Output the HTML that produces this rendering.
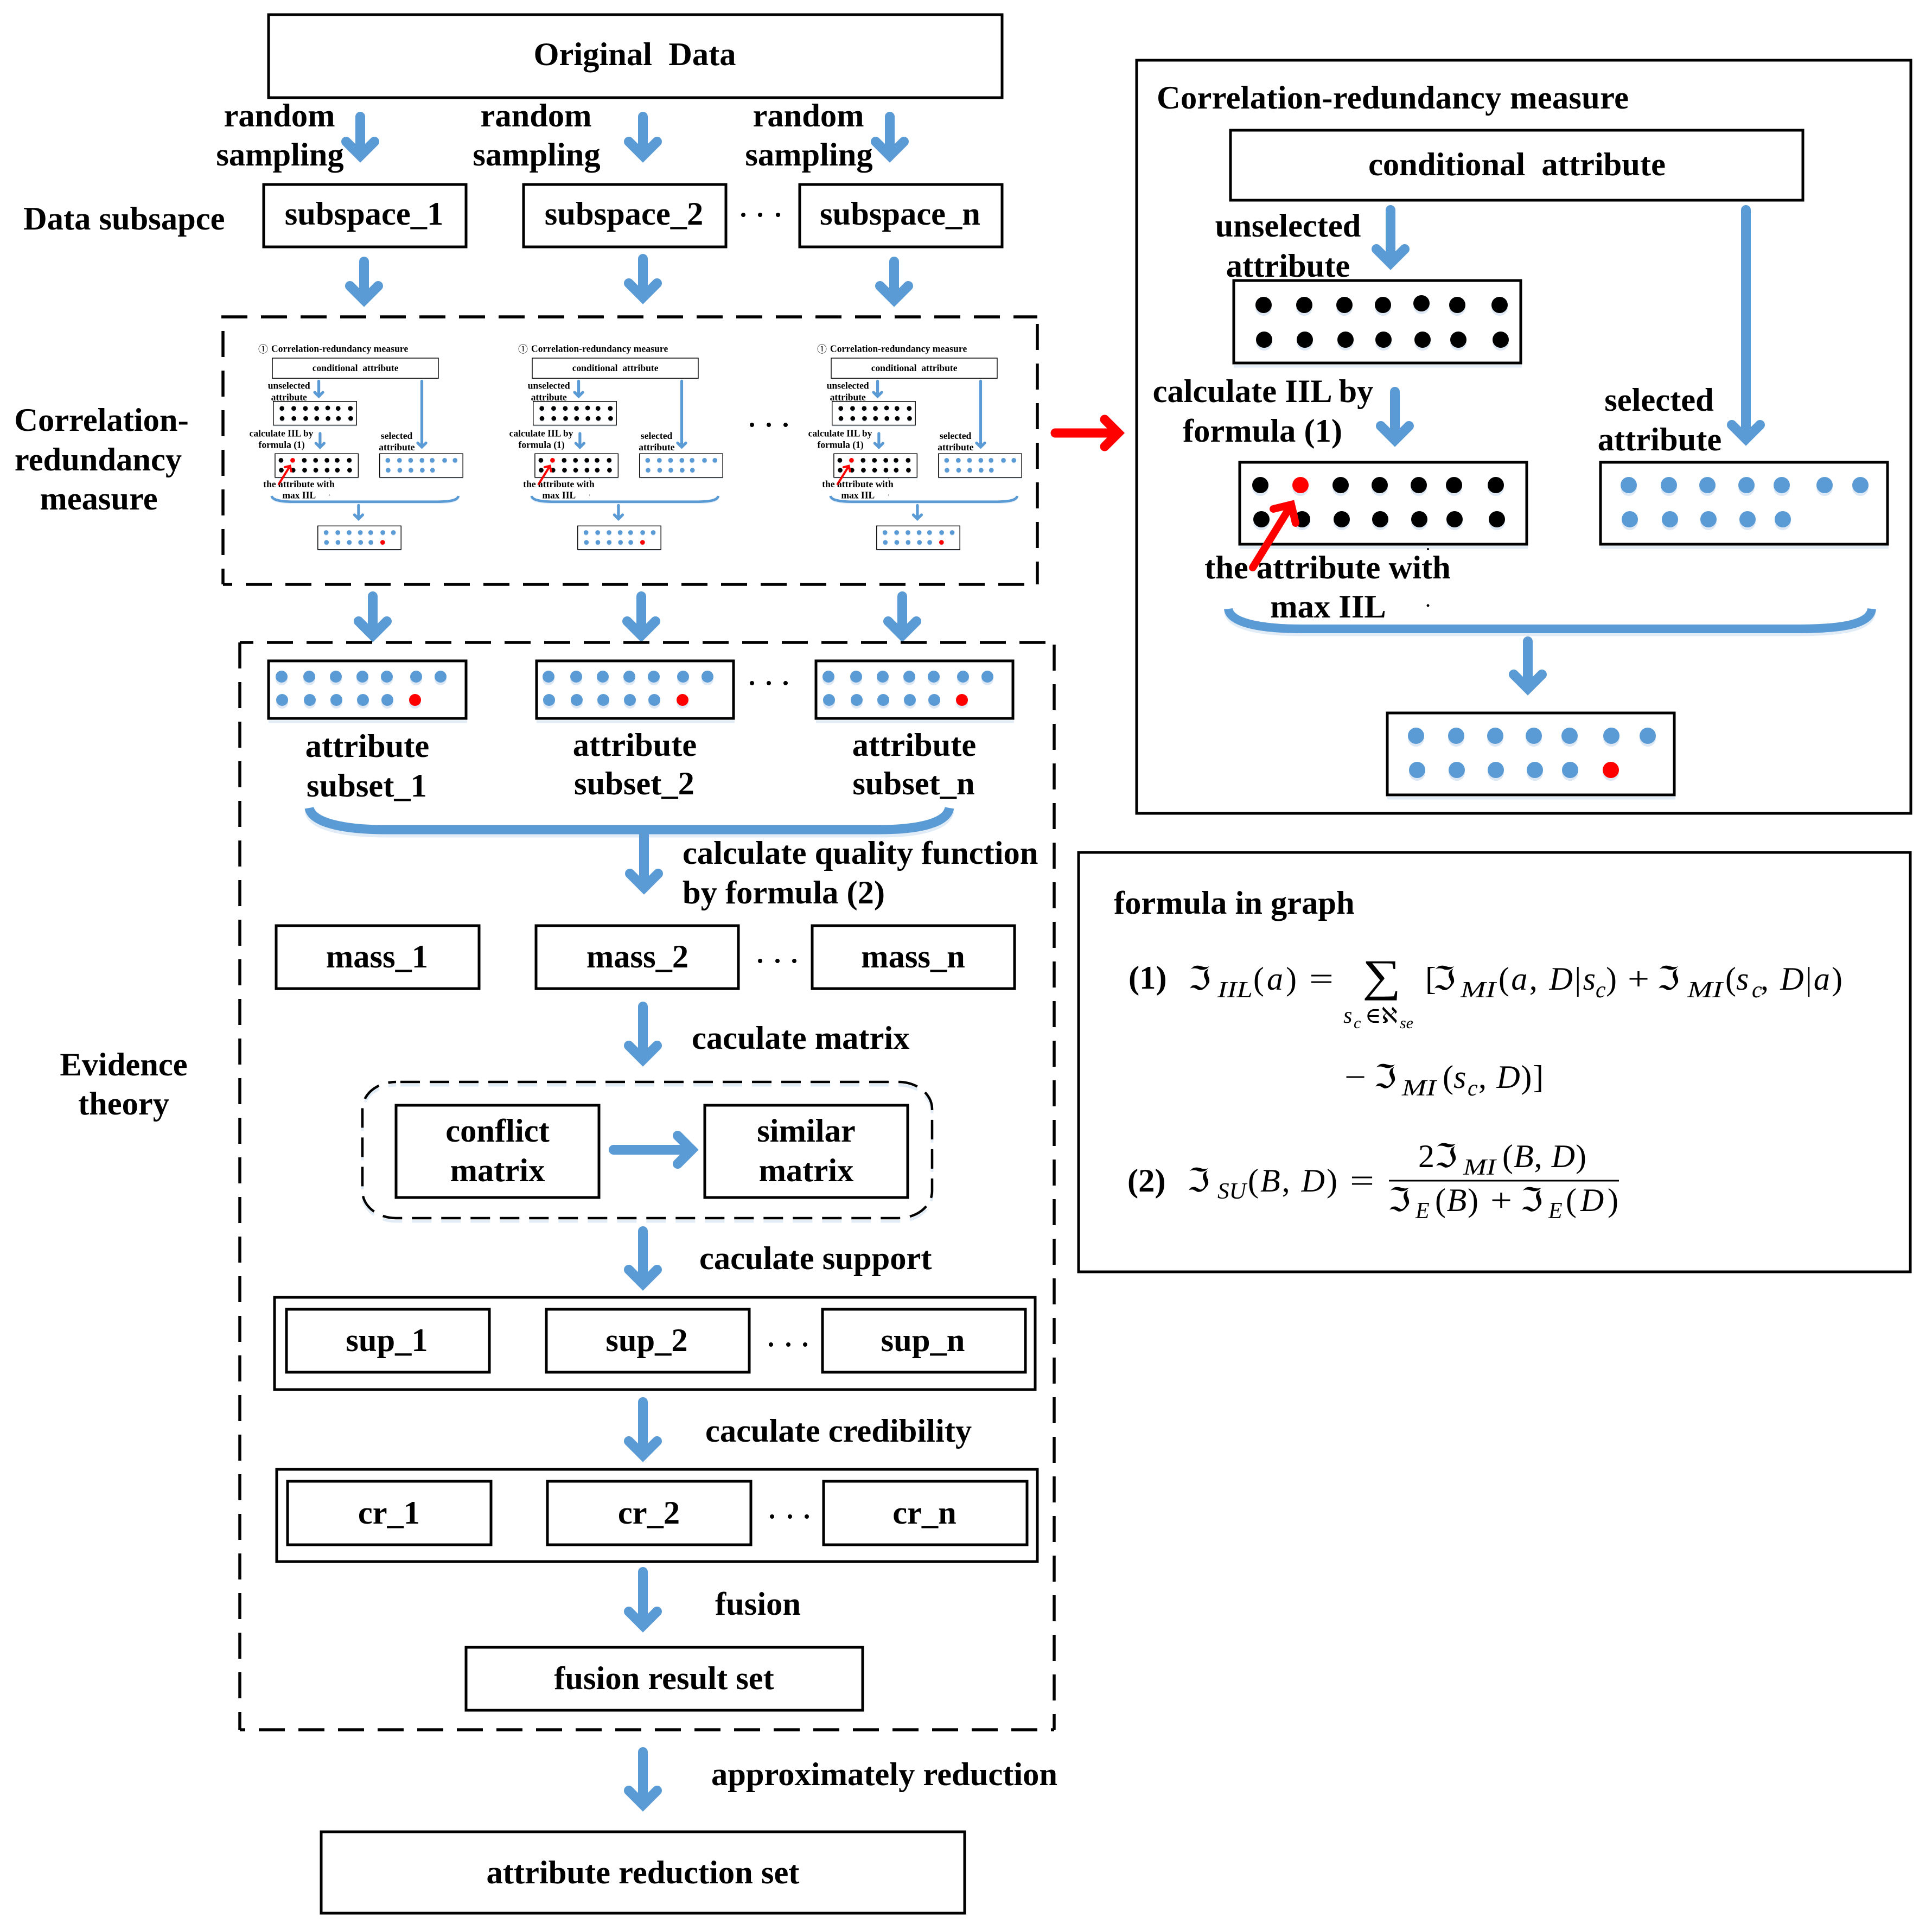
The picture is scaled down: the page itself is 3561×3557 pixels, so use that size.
<!DOCTYPE html>
<html>
<head>
<meta charset="utf-8">
<title>Attribute reduction diagram</title>
<style>
html,body{margin:0;padding:0;background:#fff}
svg{display:block}
text{font-family:"Liberation Serif","DejaVu Serif","DejaVu Sans",serif;fill:#000}
.t{font-weight:700;font-size:60.5px;text-anchor:middle}
.l{font-weight:700;font-size:60.5px}
.m{font-size:60px}
.i{font-style:italic}
.s{font-size:42px;font-style:italic}
.sf{font-size:30px;font-style:italic}
.a{fill:none;stroke:#5b9bd5;stroke-width:18;stroke-linecap:round;stroke-linejoin:miter}
.r{fill:none;stroke:#f00;stroke-linecap:round;stroke-linejoin:miter}
.b{fill:#fff;stroke:#000;stroke-width:5}
.k{fill:none;stroke:#000;stroke-width:5.5}
.bl{fill:#5b9bd5}
.bk{fill:#000}
.rd{fill:#f00}
.sh{filter:drop-shadow(0 5px 0 #dde8f4)}
.bs{fill:none;stroke:#e2ecf7;stroke-width:5}
.c1{font-family:"Noto Sans CJK SC","DejaVu Sans",sans-serif;font-size:18px}
</style>
</head>
<body>
<svg xmlns="http://www.w3.org/2000/svg" width="3561" height="3557" viewBox="0 0 3561 3557">
<rect width="3561" height="3557" fill="#fff"/>

<!-- top section -->
<rect class="b" x="495" y="27" width="1352" height="153"/>
<text class="t" x="1170" y="120">Original&#160; Data</text>

<text class="t" x="515" y="233">random</text>
<text class="t" x="516" y="305">sampling</text>
<text class="t" x="988" y="233">random</text>
<text class="t" x="989" y="305">sampling</text>
<text class="t" x="1490" y="233">random</text>
<text class="t" x="1491" y="305">sampling</text>

<path class="a" d="M664 215V287M638 261L664 287L690 261"/>
<path class="a" d="M1185 215V287M1159 261L1185 287L1211 261"/>
<path class="a" d="M1640 215V287M1614 261L1640 287L1666 261"/>

<text class="l" x="43" y="423">Data subsapce</text>
<rect class="b" x="486" y="340" width="373" height="115"/>
<rect class="b" x="965" y="340" width="373" height="115"/>
<rect class="b" x="1474" y="340" width="373" height="115"/>
<text class="t" x="671" y="414">subspace_1</text>
<text class="t" x="1150" y="414">subspace_2</text>
<text class="t" x="1659" y="414">subspace_n</text>
<circle cx="1370" cy="396" r="4"/><circle cx="1401" cy="396" r="4"/><circle cx="1434" cy="396" r="4"/>

<path class="a" d="M671 482V553M645 527L671 553L697 527"/>
<path class="a" d="M1185 477V548M1159 522L1185 548L1211 522"/>
<path class="a" d="M1648 482V553M1622 527L1648 553L1674 527"/>

<!-- first dashed box -->
<path class="k" stroke-dasharray="48 25" d="M408 584H1912"/>
<path class="k" stroke-dasharray="48 25" d="M411 610V1077"/>
<path class="k" stroke-dasharray="48 25" d="M1912 597V1077"/>
<path class="k" stroke-dasharray="48 25" stroke-dashoffset="31" d="M411 1077H1912"/>

<text class="t" x="187" y="794">Correlation-</text>
<text class="t" x="181" y="867">redundancy</text>
<text class="t" x="182" y="939">measure</text>

<!-- large panel -->
<rect class="b" x="2095" y="111" width="1427" height="1388"/>
<text class="l" x="2132" y="200" textLength="870">Correlation-redundancy measure</text>

<g id="pg">
  <rect class="b" x="2268" y="240" width="1055" height="129"/>
  <path class="bs" d="M2275 521H2805"/>
  <path class="a" d="M2563 387V485M2537 459L2563 485L2589 459"/>
  <path class="a" d="M3218 387V809M3192 783L3218 809L3244 783"/>
  <rect class="b" x="2274" y="517" width="529" height="152"/>
  <path class="bs" d="M2274 675H2805"/>
  <g class="sh bk">
    <circle cx="2329" cy="562" r="15"/><circle cx="2404" cy="562" r="15"/><circle cx="2478" cy="562" r="15"/><circle cx="2549" cy="562" r="15"/><circle cx="2620" cy="559" r="15"/><circle cx="2686" cy="562" r="15"/><circle cx="2764" cy="562" r="15"/>
    <circle cx="2330" cy="626" r="15"/><circle cx="2405" cy="626" r="15"/><circle cx="2480" cy="626" r="15"/><circle cx="2550" cy="626" r="15"/><circle cx="2622" cy="626" r="15"/><circle cx="2688" cy="626" r="15"/><circle cx="2766" cy="626" r="15"/>
  </g>
  <path class="a" d="M2571 722V811M2545 785L2571 811L2597 785"/>
  <rect class="b" x="2285" y="852" width="529" height="151"/>
  <path class="bs" d="M2285 1009H2816"/>
  <g class="sh bk">
    <circle cx="2323" cy="894" r="15"/><circle cx="2471" cy="894" r="15"/><circle cx="2543" cy="894" r="15"/><circle cx="2615" cy="894" r="15"/><circle cx="2680" cy="894" r="15"/><circle cx="2757" cy="894" r="15"/>
    <circle cx="2325" cy="957" r="15"/><circle cx="2400" cy="957" r="15"/><circle cx="2473" cy="957" r="15"/><circle cx="2544" cy="957" r="15"/><circle cx="2616" cy="957" r="15"/><circle cx="2681" cy="957" r="15"/><circle cx="2759" cy="957" r="15"/>
  </g>
  <g class="sh"><circle class="rd" cx="2397" cy="894" r="15"/></g>
  <rect class="b" x="2950" y="852" width="529" height="151"/>
  <path class="bs" d="M2950 1009H3481"/>
  <g class="sh bl">
    <circle cx="3002" cy="894" r="15"/><circle cx="3076" cy="894" r="15"/><circle cx="3147" cy="894" r="15"/><circle cx="3219" cy="894" r="15"/><circle cx="3284" cy="894" r="15"/><circle cx="3363" cy="894" r="15"/><circle cx="3429" cy="894" r="15"/>
    <circle cx="3004" cy="957" r="15"/><circle cx="3078" cy="957" r="15"/><circle cx="3149" cy="957" r="15"/><circle cx="3221" cy="957" r="15"/><circle cx="3286" cy="957" r="15"/>
  </g>
  <circle cx="2632" cy="1116" r="2.5"/><circle cx="2632" cy="1012" r="2"/>
  <path fill="none" stroke="#e2ecf7" stroke-width="15" d="M2264 1128C2267 1156 2332 1165 2402 1165L3310 1165C3398 1165 3447 1156 3450 1128"/>
  <path fill="none" stroke="#5b9bd5" stroke-width="16" d="M2264 1122C2267 1150 2332 1159 2402 1159L3310 1159C3398 1159 3447 1150 3450 1122"/>
  <path class="a" d="M2816 1182V1269M2790 1243L2816 1269L2842 1243"/>
  <rect class="b" x="2557" y="1314" width="529" height="151"/>
  <path class="bs" d="M2557 1471H3088"/>
  <g class="sh bl">
    <circle cx="2610" cy="1356" r="15"/><circle cx="2684" cy="1356" r="15"/><circle cx="2756" cy="1356" r="15"/><circle cx="2827" cy="1356" r="15"/><circle cx="2893" cy="1356" r="15"/><circle cx="2970" cy="1356" r="15"/><circle cx="3037" cy="1356" r="15"/>
    <circle cx="2612" cy="1419" r="15"/><circle cx="2685" cy="1419" r="15"/><circle cx="2757" cy="1419" r="15"/><circle cx="2829" cy="1419" r="15"/><circle cx="2894" cy="1419" r="15"/>
  </g>
  <g class="sh"><circle class="rd" cx="2969" cy="1419" r="15"/></g>
</g>
<text class="t" x="2796" y="323">conditional&#160; attribute</text>
<text class="t" x="2374" y="436">unselected</text>
<text class="t" x="2374" y="510">attribute</text>
<text class="t" x="2328" y="741">calculate IIL by</text>
<text class="t" x="2327" y="814">formula (1)</text>
<text class="t" x="3058" y="757">selected</text>
<text class="t" x="3059" y="830">attribute</text>
<text class="t" x="2447" y="1066">the attribute with</text>
<text class="t" x="2448" y="1138">max IIL</text>
<path class="r" stroke-width="14" d="M2309 1046L2378 934M2347 938L2380 930L2388 964"/>

<!-- mini panels -->
<g transform="translate(-155.72,590.88) scale(.29,.288)">
  <use href="#pg"/>
  <path class="r" stroke-width="14" d="M2309 1046L2378 934M2347 938L2380 930L2388 964"/>
  <text class="l" x="2261" y="200" textLength="870">Correlation-redundancy measure</text>
  <text class="t" x="2796" y="323">conditional&#160; attribute</text>
  <text class="t" x="2374" y="436">unselected</text>
  <text class="t" x="2374" y="510">attribute</text>
  <text class="t" x="2325" y="741">calculate IIL by</text>
  <text class="t" x="2327" y="814">formula (1)</text>
  <text class="t" x="3058" y="757">selected</text>
  <text class="t" x="3059" y="830">attribute</text>
  <text class="t" x="2437" y="1066">the attribute with</text>
  <text class="t" x="2438" y="1138">max IIL</text>
</g>
<text class="c1" x="476" y="650">①</text>
<g transform="translate(323.28,590.88) scale(.29,.288)">
  <use href="#pg"/>
  <path class="r" stroke-width="14" d="M2309 1046L2378 934M2347 938L2380 930L2388 964"/>
  <text class="l" x="2261" y="200" textLength="870">Correlation-redundancy measure</text>
  <text class="t" x="2796" y="323">conditional&#160; attribute</text>
  <text class="t" x="2374" y="436">unselected</text>
  <text class="t" x="2374" y="510">attribute</text>
  <text class="t" x="2325" y="741">calculate IIL by</text>
  <text class="t" x="2327" y="814">formula (1)</text>
  <text class="t" x="3058" y="757">selected</text>
  <text class="t" x="3059" y="830">attribute</text>
  <text class="t" x="2437" y="1066">the attribute with</text>
  <text class="t" x="2438" y="1138">max IIL</text>
</g>
<text class="c1" x="955" y="650">①</text>
<g transform="translate(874.28,590.88) scale(.29,.288)">
  <use href="#pg"/>
  <path class="r" stroke-width="14" d="M2309 1046L2378 934M2347 938L2380 930L2388 964"/>
  <text class="l" x="2261" y="200" textLength="870">Correlation-redundancy measure</text>
  <text class="t" x="2796" y="323">conditional&#160; attribute</text>
  <text class="t" x="2374" y="436">unselected</text>
  <text class="t" x="2374" y="510">attribute</text>
  <text class="t" x="2325" y="741">calculate IIL by</text>
  <text class="t" x="2327" y="814">formula (1)</text>
  <text class="t" x="3058" y="757">selected</text>
  <text class="t" x="3059" y="830">attribute</text>
  <text class="t" x="2437" y="1066">the attribute with</text>
  <text class="t" x="2438" y="1138">max IIL</text>
</g>
<text class="c1" x="1506" y="650">①</text>
<circle cx="1386" cy="783" r="4"/><circle cx="1417" cy="783" r="4"/><circle cx="1448" cy="783" r="4"/>

<!-- red connector -->
<path class="r" stroke-width="17" d="M1945 798H2060M2036 773L2061 798L2036 823"/>

<path class="a" d="M687 1099V1171M661 1145L687 1171L713 1145"/>
<path class="a" d="M1182 1099V1171M1156 1145L1182 1171L1208 1145"/>
<path class="a" d="M1663 1099V1171M1637 1145L1663 1171L1689 1145"/>

<!-- evidence dashed box -->
<path class="k" stroke-dasharray="48 25" stroke-dashoffset="23" d="M442 1184H1943"/>
<path class="k" stroke-dasharray="48 25" d="M442 1184V3188"/>
<path class="k" stroke-dasharray="48 25" d="M1943 1188V3188"/>
<path class="k" stroke-dasharray="48 25" stroke-dashoffset="38" d="M442 3188H1943"/>

<text class="t" x="228" y="1982">Evidence</text>
<text class="t" x="228" y="2054">theory</text>

<!-- attribute subsets -->
<rect class="b" x="495" y="1218" width="364" height="106"/><path class="bs" d="M495 1330H861"/>
<rect class="b" x="989" y="1218" width="363" height="106"/><path class="bs" d="M989 1330H1354"/>
<rect class="b" x="1504" y="1218" width="363" height="106"/><path class="bs" d="M1504 1330H1869"/>
<g class="sh bl">
  <circle cx="519" cy="1247" r="11"/><circle cx="570" cy="1247" r="11"/><circle cx="619" cy="1247" r="11"/><circle cx="668" cy="1247" r="11"/><circle cx="713" cy="1247" r="11"/><circle cx="767" cy="1247" r="11"/><circle cx="812" cy="1247" r="11"/>
  <circle cx="520" cy="1290" r="11"/><circle cx="571" cy="1290" r="11"/><circle cx="620" cy="1290" r="11"/><circle cx="669" cy="1290" r="11"/><circle cx="714" cy="1290" r="11"/>
  <circle cx="1011" cy="1247" r="11"/><circle cx="1062" cy="1247" r="11"/><circle cx="1111" cy="1247" r="11"/><circle cx="1160" cy="1247" r="11"/><circle cx="1205" cy="1247" r="11"/><circle cx="1259" cy="1247" r="11"/><circle cx="1304" cy="1247" r="11"/>
  <circle cx="1012" cy="1290" r="11"/><circle cx="1063" cy="1290" r="11"/><circle cx="1112" cy="1290" r="11"/><circle cx="1161" cy="1290" r="11"/><circle cx="1206" cy="1290" r="11"/>
  <circle cx="1527" cy="1247" r="11"/><circle cx="1578" cy="1247" r="11"/><circle cx="1627" cy="1247" r="11"/><circle cx="1676" cy="1247" r="11"/><circle cx="1721" cy="1247" r="11"/><circle cx="1775" cy="1247" r="11"/><circle cx="1820" cy="1247" r="11"/>
  <circle cx="1528" cy="1290" r="11"/><circle cx="1579" cy="1290" r="11"/><circle cx="1628" cy="1290" r="11"/><circle cx="1677" cy="1290" r="11"/><circle cx="1722" cy="1290" r="11"/>
</g>
<g class="sh rd"><circle cx="765" cy="1290" r="11"/><circle cx="1258" cy="1290" r="11"/><circle cx="1773" cy="1290" r="11"/></g>
<circle cx="1386" cy="1259" r="4"/><circle cx="1417" cy="1259" r="4"/><circle cx="1448" cy="1259" r="4"/>

<text class="t" x="677" y="1395">attribute</text>
<text class="t" x="676" y="1468">subset_1</text>
<text class="t" x="1170" y="1393">attribute</text>
<text class="t" x="1169" y="1464">subset_2</text>
<text class="t" x="1685" y="1393">attribute</text>
<text class="t" x="1684" y="1464">subset_n</text>

<path fill="none" stroke="#e2ecf7" stroke-width="17" d="M570 1495C575 1524 640 1535 710 1535L1620 1535C1690 1535 1745 1524 1750 1495"/>
<path fill="none" stroke="#5b9bd5" stroke-width="17" d="M570 1489C575 1518 640 1529 710 1529L1620 1529C1690 1529 1745 1518 1750 1489"/>
<path class="a" d="M1187 1538V1636M1161 1610L1187 1636L1213 1610"/>
<text class="l" x="1258" y="1592">calculate quality function</text>
<text class="l" x="1258" y="1665">by formula (2)</text>

<rect class="b" x="509" y="1706" width="374" height="116"/>
<rect class="b" x="988" y="1706" width="373" height="116"/>
<rect class="b" x="1497" y="1706" width="373" height="116"/>
<text class="t" x="695" y="1783">mass_1</text>
<text class="t" x="1175" y="1783">mass_2</text>
<text class="t" x="1683" y="1783">mass_n</text>
<circle cx="1401" cy="1771" r="4"/><circle cx="1433" cy="1771" r="4"/><circle cx="1464" cy="1771" r="4"/>

<path class="a" d="M1185 1855V1953M1159 1927L1185 1953L1211 1927"/>
<text class="l" x="1275" y="1933">caculate matrix</text>

<rect x="668" y="2000" width="1050" height="251" rx="62" ry="50" fill="none" stroke="#e2ecf7" stroke-width="5" stroke-dasharray="36 18" stroke-dashoffset="46"/>
<rect x="668" y="1994" width="1050" height="251" rx="62" ry="50" fill="none" stroke="#000" stroke-width="4.5" stroke-dasharray="36 18" stroke-dashoffset="46"/>
<rect class="b" x="730" y="2037" width="374" height="170"/>
<rect class="b" x="1299" y="2037" width="374" height="170"/>
<text class="t" x="917" y="2104">conflict</text>
<text class="t" x="917" y="2177">matrix</text>
<text class="t" x="1486" y="2104">similar</text>
<text class="t" x="1486" y="2177">matrix</text>
<path class="a" d="M1131 2119H1275M1249 2093L1275 2119L1249 2145"/>

<path class="a" d="M1185 2269V2366M1159 2340L1185 2366L1211 2340"/>
<text class="l" x="1289" y="2339">caculate support</text>

<rect class="b" x="506" y="2391" width="1402" height="170"/>
<rect class="b" x="528" y="2413" width="374" height="116"/>
<rect class="b" x="1007" y="2413" width="374" height="116"/>
<rect class="b" x="1516" y="2413" width="374" height="116"/>
<text class="t" x="713" y="2490">sup_1</text>
<text class="t" x="1192" y="2490">sup_2</text>
<text class="t" x="1701" y="2490">sup_n</text>
<circle cx="1421" cy="2478" r="4"/><circle cx="1453" cy="2478" r="4"/><circle cx="1484" cy="2478" r="4"/>

<path class="a" d="M1185 2584V2682M1159 2656L1185 2682L1211 2656"/>
<text class="l" x="1300" y="2657">caculate credibility</text>

<rect class="b" x="510" y="2708" width="1402" height="170"/>
<rect class="b" x="530" y="2730" width="375" height="117"/>
<rect class="b" x="1009" y="2730" width="375" height="117"/>
<rect class="b" x="1518" y="2730" width="375" height="117"/>
<text class="t" x="717" y="2808">cr_1</text>
<text class="t" x="1196" y="2808">cr_2</text>
<text class="t" x="1704" y="2808">cr_n</text>
<circle cx="1423" cy="2795" r="4"/><circle cx="1456" cy="2795" r="4"/><circle cx="1487" cy="2795" r="4"/>

<path class="a" d="M1185 2897V2996M1159 2970L1185 2996L1211 2970"/>
<text class="l" x="1318" y="2976">fusion</text>

<rect class="b" x="859" y="3036" width="731" height="116"/>
<text class="t" x="1224" y="3113">fusion result set</text>

<path class="a" d="M1185 3229V3326M1159 3300L1185 3326L1211 3300"/>
<text class="l" x="1311" y="3290">approximately reduction</text>

<rect class="b" x="592" y="3376" width="1186" height="150"/>
<text class="t" x="1185" y="3471">attribute reduction set</text>

<!-- formula box -->
<rect class="b" x="1988" y="1571" width="1533" height="773"/>
<text class="l" x="2053" y="1684">formula in graph</text>

<text class="l" x="2080" y="1822">(1)</text>
<g class="m">
  <text x="2190" y="1824">ℑ</text>
  <text class="s" x="2244" y="1838" textLength="65" lengthAdjust="spacingAndGlyphs">IIL</text>
  <text x="2310" y="1824" textLength="80">(<tspan class="i">a</tspan>)</text>
  <text x="2413" y="1824" textLength="45" lengthAdjust="spacingAndGlyphs">=</text>
  <text transform="translate(2511,1826) scale(1,.83)" style="font-size:100px">∑</text>
  <text class="s" x="2476" y="1885">s</text>
  <text class="sf" x="2495" y="1895">c</text>
  <text x="2516" y="1885" style="font-size:40px">∈</text>
  <text x="2546" y="1885" style="font-size:40px">ℵ</text>
  <text class="sf" x="2580" y="1895">se</text>
  <text x="2627" y="1824">[</text>
  <text x="2641" y="1824">ℑ</text>
  <text class="s" x="2692" y="1838" textLength="65" lengthAdjust="spacingAndGlyphs">MI</text>
  <text x="2762" y="1824" textLength="179">(<tspan class="i">a</tspan>, <tspan class="i">D</tspan>|<tspan class="i">s</tspan></text>
  <text class="s" x="2941" y="1838">c</text>
  <text x="2960" y="1824">)</text>
  <text x="3000" y="1824" textLength="40" lengthAdjust="spacingAndGlyphs">+</text>
  <text x="3054" y="1824">ℑ</text>
  <text class="s" x="3110" y="1838" textLength="65" lengthAdjust="spacingAndGlyphs">MI</text>
  <text x="3180" y="1824">(<tspan class="i">s</tspan></text>
  <text class="s" x="3229" y="1838">c</text>
  <text x="3245" y="1824" textLength="151">, <tspan class="i">D</tspan>|<tspan class="i">a</tspan>)</text>

  <text x="2478" y="2005" textLength="40" lengthAdjust="spacingAndGlyphs">−</text>
  <text x="2532" y="2005">ℑ</text>
  <text class="s" x="2584" y="2019" textLength="63" lengthAdjust="spacingAndGlyphs">MI</text>
  <text x="2659" y="2005">(<tspan class="i">s</tspan></text>
  <text class="s" x="2705" y="2019">c</text>
  <text x="2725" y="2005" textLength="120">, <tspan class="i">D</tspan>)]</text>

  <text x="2188" y="2196">ℑ</text>
  <text class="s" x="2244" y="2209" textLength="53" lengthAdjust="spacingAndGlyphs">SU</text>
  <text x="2300" y="2196" textLength="165">(<tspan class="i">B</tspan>, <tspan class="i">D</tspan>)</text>
  <text x="2488" y="2196" textLength="45" lengthAdjust="spacingAndGlyphs">=</text>

  <text x="2614" y="2151">2ℑ</text>
  <text class="s" x="2697" y="2165" textLength="60" lengthAdjust="spacingAndGlyphs">MI</text>
  <text x="2769" y="2151" textLength="155">(<tspan class="i">B</tspan>, <tspan class="i">D</tspan>)</text>

  <text x="2558" y="2232">ℑ</text>
  <text class="s" x="2609" y="2245">E</text>
  <text x="2645" y="2232" textLength="80">(<tspan class="i">B</tspan>)</text>
  <text x="2747" y="2232" textLength="40" lengthAdjust="spacingAndGlyphs">+</text>
  <text x="2802" y="2232">ℑ</text>
  <text class="s" x="2854" y="2245">E</text>
  <text x="2886" y="2232" textLength="97">(<tspan class="i">D</tspan>)</text>
</g>
<path d="M2560 2176H2984" stroke="#000" stroke-width="3"/>
<text class="l" x="2078" y="2196">(2)</text>
</svg>
</body>
</html>
